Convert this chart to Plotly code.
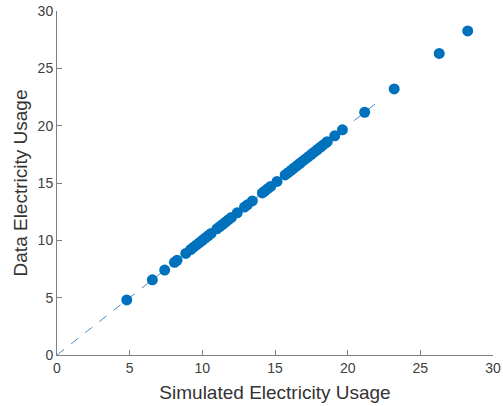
import plotly.graph_objects as go

simulated = [4.8, 6.56, 7.41, 8.08, 8.26, 8.86, 9.2, 9.4, 9.6, 9.8, 10.0, 10.2, 10.4, 10.6,
             11.0, 11.2, 11.4, 11.6, 11.8, 12.0, 12.4, 12.9, 13.1, 13.44,
             14.13, 14.3, 14.5, 14.7, 15.14, 15.7, 15.9, 16.1, 16.3, 16.5, 16.7, 16.9,
             17.1, 17.3, 17.5, 17.7, 17.9, 18.1, 18.3, 18.5, 18.6, 19.11, 19.64,
             21.17, 23.2, 26.3, 28.26]
data = [4.8, 6.56, 7.41, 8.08, 8.26, 8.86, 9.2, 9.4, 9.6, 9.8, 10.0, 10.2, 10.4, 10.6,
        11.0, 11.2, 11.4, 11.6, 11.8, 12.0, 12.4, 12.9, 13.1, 13.44,
        14.13, 14.3, 14.5, 14.7, 15.14, 15.7, 15.9, 16.1, 16.3, 16.5, 16.7, 16.9,
        17.1, 17.3, 17.5, 17.7, 17.9, 18.1, 18.3, 18.5, 18.6, 19.11, 19.64,
        21.17, 23.2, 26.3, 28.26]
ref_line = [0, 22]
ticks = [0, 5, 10, 15, 20, 25, 30]

fig = go.Figure()
fig.add_trace(go.Scatter(x=ref_line, y=ref_line, mode="lines",
                         line=dict(color="#4A90C8", width=1, dash="dash"),
                         showlegend=False, hoverinfo="skip"))
fig.add_trace(go.Scatter(x=simulated, y=data, mode="markers",
                         marker=dict(color="#0072BD", size=11, line=dict(width=0)),
                         showlegend=False, cliponaxis=False))

axis_common = dict(range=[0, 30], tickvals=ticks, showgrid=False, zeroline=False,
                   showline=True, linecolor="#808080", linewidth=1,
                   ticks="inside", ticklen=5, tickcolor="#808080", automargin=False,
                   tickfont=dict(family="Liberation Sans, Arial", size=14, color="#404040"),
                   title_font=dict(family="Liberation Sans, Arial", size=19, color="#333333"))

fig.update_xaxes(**axis_common, title_text="Simulated Electricity Usage", title_standoff=10)
fig.update_yaxes(**axis_common, title_text="Data Electricity Usage", title_standoff=4)

fig.update_layout(width=503, height=406, margin=dict(l=57, r=10, t=11, b=51),
                  plot_bgcolor="white", paper_bgcolor="white")

fig.write_html("out.html")
